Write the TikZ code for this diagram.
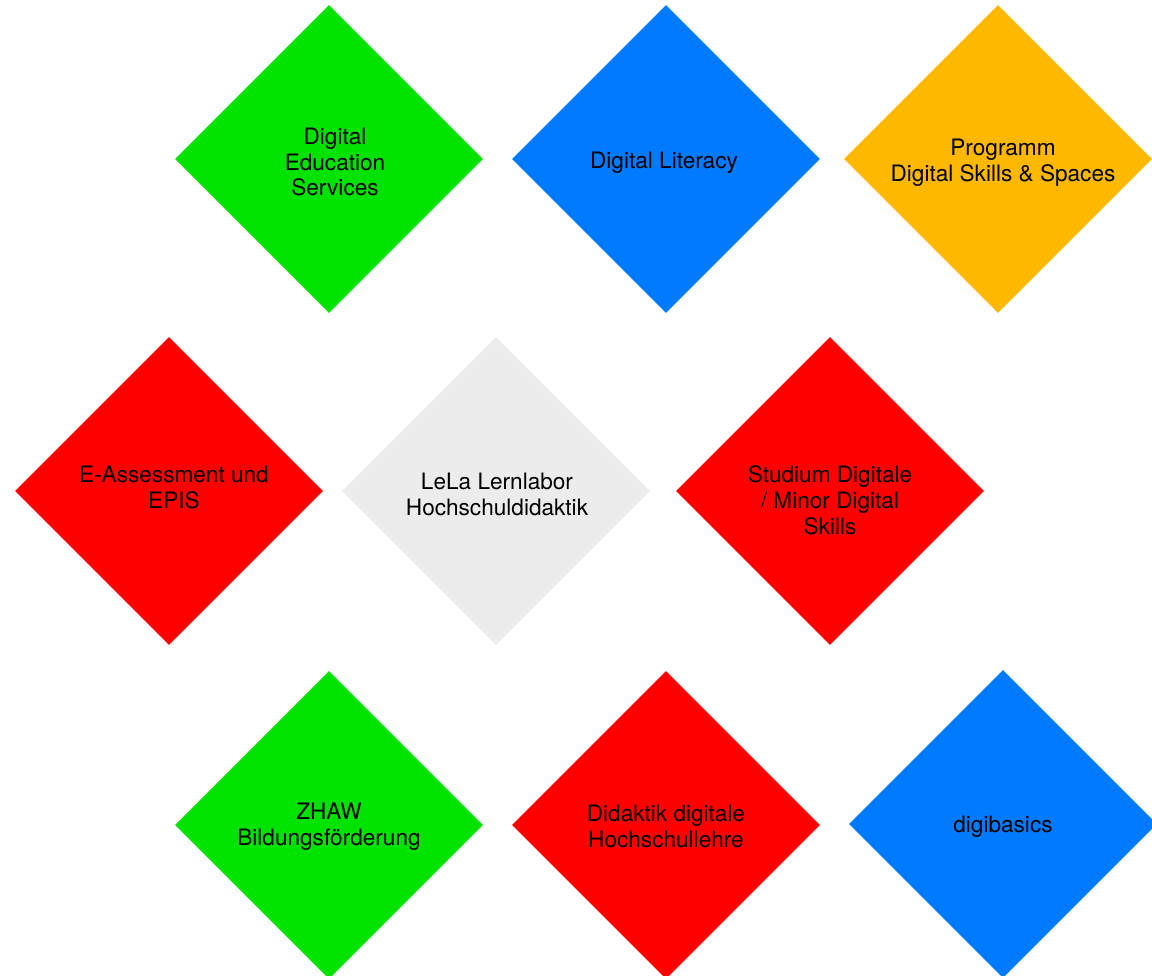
\documentclass[tikz,border=0pt]{standalone}
\usepackage{fontspec}
\setmainfont{TeX Gyre Heros}
\usetikzlibrary{shapes.geometric}
\definecolor{dgreen}{RGB}{0,226,0}
\definecolor{dblue}{RGB}{0,123,255}
\definecolor{dorange}{RGB}{255,184,0}
\definecolor{dred}{RGB}{255,0,0}
\definecolor{dgray}{RGB}{236,236,236}
\tikzset{
  dia/.style={diamond, draw=none, inner sep=0pt, minimum width=308pt, minimum height=308pt, aspect=1},
  lbl/.style={align=center, inner sep=0pt, text=black, font=\fontsize{22.6pt}{25.8pt}\selectfont}
}
\begin{document}
\begin{tikzpicture}[x=1pt,y=-1pt]
\useasboundingbox (0,0) rectangle (1152,976);
\clip (0,0) rectangle (1152,976);
\fill[white] (0,0) rectangle (1152,976);
% row 1
\node[dia, fill=dgreen]  (des)  at (329,159) {};
\node[dia, fill=dblue]   (dlit) at (666,159) {};
\node[dia, fill=dorange] (prog) at (998,159) {};
% row 2
\node[dia, fill=dred]    (eass) at (169,491) {};
\node[dia, fill=dgray]   (lela) at (496,491) {};
\node[dia, fill=dred]    (stud) at (830,491) {};
% row 3
\node[dia, fill=dgreen]  (zhaw) at (329,825) {};
\node[dia, fill=dred]    (dida) at (666,825) {};
\node[dia, fill=dblue]   (digi) at (1003,824) {};
% labels
\node[lbl] (tdes)  at (335,162) {Digital\\Education\\Services};
\node[lbl] (tdlit) at (664,163) {Digital Literacy};
\node[lbl] (tprog) at (1003,163) {Programm\\Digital Skills \& Spaces};
\node[lbl] (teass) at (174,487.5) {E-Assessment und\\EPIS};
\node[lbl] (tlela) at (497,494.5) {LeLa Lernlabor\\Hochschuldidaktik};
\node[lbl] (tstud) at (830,500) {Studium Digitale\\/ Minor Digital\\Skills};
\node[lbl] (tzhaw) at (329,826.5) {ZHAW\\Bildungsförderung};
\node[lbl] (tdida) at (666,826.5) {Didaktik digitale\\Hochschullehre};
\node[lbl] (tdigi) at (1003,827) {digibasics};
\end{tikzpicture}
\end{document}
